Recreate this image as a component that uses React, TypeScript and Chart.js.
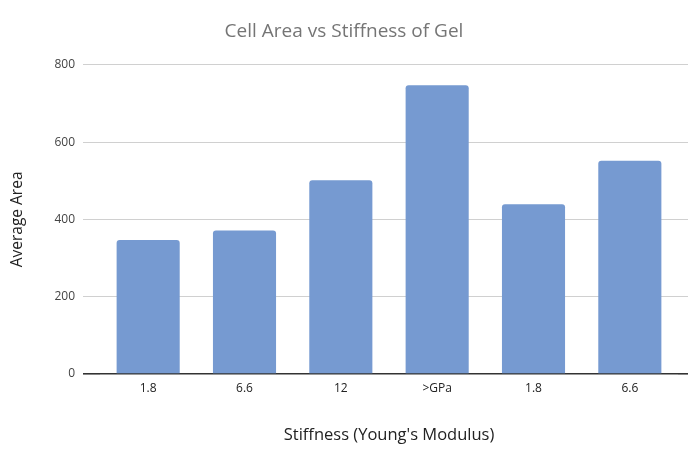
import React, { useEffect, useRef } from "react";
import { Chart, registerables } from "chart.js";

Chart.register(...registerables);

const categories = ["1.8", "6.6", "12", ">GPa", "1.8", "6.6"];
const averageArea = [347, 371, 501, 747, 439, 552];
const yTicks = [0, 200, 400, 600, 800];

const FONT = "'Open Sans', 'DejaVu Sans', sans-serif";
const gridColor = (ctx: any) => (ctx.tick && ctx.tick.value === 0 ? "#333333" : "#d0d0d0");
const gridWidth = (ctx: any) => (ctx.tick && ctx.tick.value === 0 ? 1.6 : 1);

export default function App() {
  const ref = useRef<HTMLCanvasElement | null>(null);
  useEffect(() => {
    document.body.style.margin = "0";
    document.body.style.overflow = "hidden";
    const chart = new Chart(ref.current!, {
      type: "bar",
      data: {
        labels: categories,
        datasets: [
          {
            label: "Average Area",
            data: averageArea,
            backgroundColor: "#769AD1",
            borderRadius: { topLeft: 3, topRight: 3 },
            borderSkipped: "bottom",
            categoryPercentage: 1,
            barPercentage: 0.655,
          },
        ],
      },
      options: {
        responsive: false,
        animation: false,
        layout: { padding: 0 },
        plugins: {
          legend: { display: false },
          tooltip: { enabled: false },
          title: {
            display: true,
            text: "Cell Area vs Stiffness of Gel",
            color: "#757575",
            font: { family: FONT, size: 19, weight: "normal" },
            padding: { top: 20, bottom: 22 },
          },
        },
        scales: {
          x: {
            grid: { display: false, drawTicks: false },
            border: { display: false },
            ticks: { color: "#222", font: { family: FONT, size: 12 }, padding: 7 },
            title: {
              display: true,
              text: "Stiffness (Young's Modulus)",
              color: "#222",
              font: { family: FONT, size: 16.5 },
              padding: { top: 0, bottom: 4 },
            },
            afterFit: (s: any) => {
              s.height = 75;
            },
          },
          y: {
            min: 0,
            max: 800,
            afterBuildTicks: (s: any) => {
              s.ticks = yTicks.map((v) => ({ value: v }));
            },
            grid: { color: gridColor, lineWidth: gridWidth, tickLength: 17 },
            border: { display: false },
            ticks: { color: "#444", font: { family: FONT, size: 12 }, padding: 8 },
            title: {
              display: true,
              text: "Average Area",
              color: "#222",
              font: { family: FONT, size: 15.5 },
              padding: { top: 8, bottom: 0 },
            },
            afterFit: (s: any) => {
              s.width = 100;
            },
          },
          y2: {
            position: "right",
            min: 0,
            max: 800,
            afterBuildTicks: (s: any) => {
              s.ticks = yTicks.map((v) => ({ value: v }));
            },
            grid: { color: gridColor, lineWidth: gridWidth, tickLength: 10, drawOnChartArea: false },
            border: { display: false },
            ticks: { display: false },
            afterFit: (s: any) => {
              s.width = 10;
            },
          },
        },
      },
    } as any);
    return () => chart.destroy();
  }, []);
  return (
    <div style={{ width: 688, height: 449 }}>
      <canvas ref={ref} width={688} height={449} />
    </div>
  );
}
